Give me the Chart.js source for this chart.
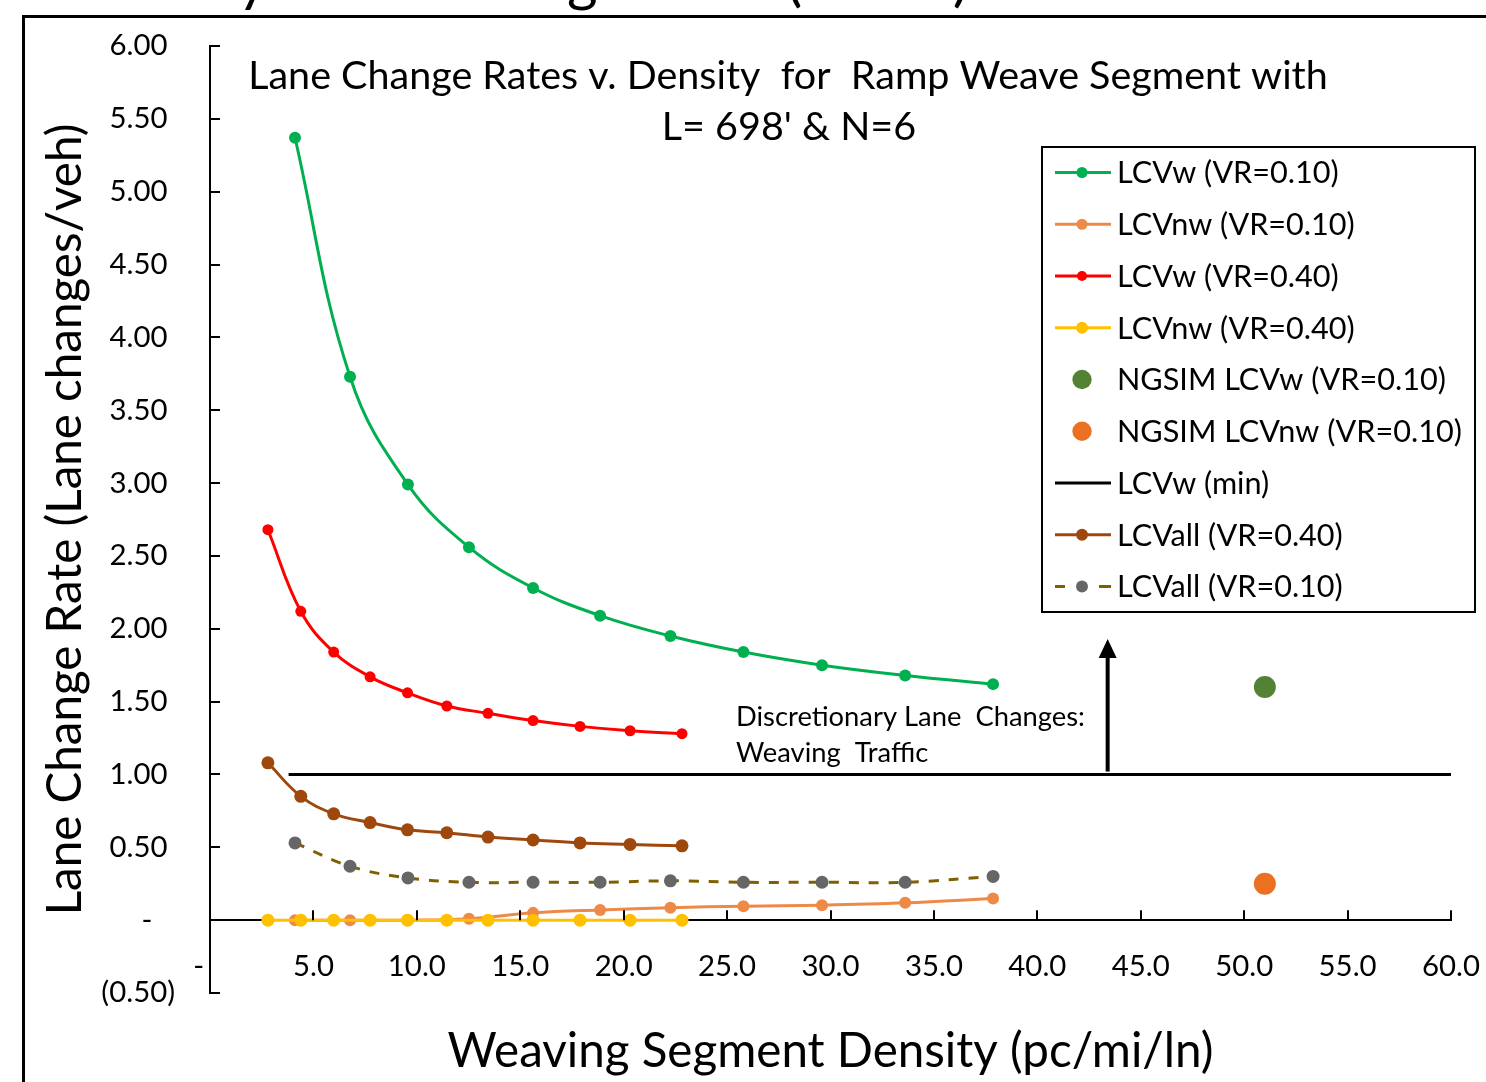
<!DOCTYPE html>
<html>
<head>
<meta charset="utf-8">
<script src="https://cdn.jsdelivr.net/npm/chart.js@4/dist/chart.umd.min.js"></script>
<style>
html, body { margin: 0; padding: 0; background: #fff; overflow: hidden; width: 1486px; height: 1082px; }
#cut { position: absolute; left: 5px; top: -40px; font-family: Lato, sans-serif; font-size: 46px; line-height: 46px; white-space: nowrap; color: #000; }
#bl { display: inline-block; width: 0; height: 0; }
#frame { position: absolute; left: 22px; top: 15px; width: 1520px; height: 1120px; border-left: 3px solid #000; border-top: 3px solid #000; }
#c { position: absolute; left: 0; top: 0; }
</style>
</head>
<body>
<div id="cut"><span id="bl"></span>data analysis with a higher VR (=0.40) is also shown.</div>
<div id="frame"></div>
<canvas id="c" width="1486" height="1082"></canvas>
<script>
// ---------------- data ----------------
const densityVR10 = [4.11, 6.77, 9.57, 12.52, 15.62, 18.86, 22.26, 25.79, 29.59, 33.61, 37.86];
const densityVR40 = [2.80, 4.39, 5.98, 7.74, 9.55, 11.45, 13.44, 15.62, 17.89, 20.31, 22.82];
const lcvwVR10   = [5.37, 3.73, 2.99, 2.56, 2.28, 2.09, 1.95, 1.84, 1.75, 1.68, 1.62];
const lcvnwVR10  = [0.00, 0.00, 0.00, 0.01, 0.05, 0.07, 0.085, 0.096, 0.103, 0.119, 0.149];
const lcvwVR40   = [2.68, 2.12, 1.84, 1.67, 1.56, 1.47, 1.42, 1.37, 1.33, 1.30, 1.28];
const lcvnwVR40  = [0.00, 0.00, 0.00, 0.00, 0.00, 0.00, 0.00, 0.00, 0.00, 0.00, 0.00];
const lcvallVR40 = [1.08, 0.85, 0.73, 0.67, 0.62, 0.60, 0.57, 0.55, 0.53, 0.52, 0.51];
const lcvallVR10 = [0.53, 0.37, 0.29, 0.26, 0.26, 0.26, 0.27, 0.26, 0.26, 0.26, 0.30];
const ngsimDensity = [51.0];
const ngsimLcvw    = [1.60];
const ngsimLcvnw   = [0.25];
const lcvwMinDensity = [3.8, 60];
const lcvwMinRate    = [1.0, 1.0];
const arrowDensity = [43.4, 43.4];
const arrowRate    = [1.02, 1.93];
const noteAnchor   = [25.43, 1.33, 1.085];   // x, baseline line 1, baseline line 2 (data units)

const seriesLabels = [
  'LCVw (VR=0.10)', 'LCVnw (VR=0.10)', 'LCVw (VR=0.40)', 'LCVnw (VR=0.40)',
  'NGSIM LCVw (VR=0.10)', 'NGSIM LCVnw (VR=0.10)', 'LCVw (min)',
  'LCVall (VR=0.40)', 'LCVall (VR=0.10)'
];
const yTickValues = [-0.5, 0, 0.5, 1, 1.5, 2, 2.5, 3, 3.5, 4, 4.5, 5, 5.5, 6];
const yTickLabels = ['(0.50)', '-   ', '0.50 ', '1.00 ', '1.50 ', '2.00 ', '2.50 ', '3.00 ', '3.50 ', '4.00 ', '4.50 ', '5.00 ', '5.50 ', '6.00 '];
const xTickValues = [0, 5, 10, 15, 20, 25, 30, 35, 40, 45, 50, 55, 60];
const xTickLabels = ['-   ', '5.0', '10.0', '15.0', '20.0', '25.0', '30.0', '35.0', '40.0', '45.0', '50.0', '55.0', '60.0'];
const titleLines = ['Lane Change Rates v. Density  for  Ramp Weave Segment with', "L= 698' & N=6"];
const xTitle = 'Weaving Segment Density (pc/mi/ln)';
const yTitle = 'Lane Change Rate (Lane changes/veh)';
const noteLines = ['Discretionary Lane  Changes:', 'Weaving  Traffic'];

// ---------------- clipped caption above the frame ----------------
(function () {
  const cut = document.getElementById('cut');
  const w = cut.getBoundingClientRect().width;
  cut.style.fontSize = (46 * 1335 / w) + 'px';
  cut.style.lineHeight = cut.style.fontSize;
  const base = document.getElementById('bl').getBoundingClientRect().bottom;
  cut.style.top = (-40 - 0.5 - base) + 'px';
})();

// ---------------- helpers ----------------
const FAMILY = 'Lato';
const mctx = document.createElement('canvas').getContext('2d');
function fitPx(text, width) {
  mctx.font = `100px ${FAMILY}`;
  return 100 * width / mctx.measureText(text).width;
}
const titlePx = fitPx(titleLines[0], 1080);
const axisTitlePx = fitPx(yTitle, 792);
const tickPx = fitPx('6.00', 58);
const legendPx = fitPx('NGSIM LCVnw (VR=0.10)', 345);
const notePx = fitPx(noteLines[0], 349);

const pts = (xs, ys) => xs.map((v, i) => ({ x: v, y: ys[i] }));
function series(i, xs, ys, color, extra) {
  return Object.assign({
    label: seriesLabels[i], data: pts(xs, ys),
    borderColor: color, backgroundColor: color,
    pointBackgroundColor: color, pointBorderColor: color, pointBorderWidth: 0,
    borderWidth: 3, pointRadius: 6, pointHoverRadius: 6,
    tension: 0.4, fill: false, order: -i, showLine: true
  }, extra || {});
}

const datasets = [
  series(0, densityVR10, lcvwVR10, '#00B050', { pointRadius: 6 }),
  series(1, densityVR10, lcvnwVR10, '#EE8A48', { pointRadius: 6 }),
  series(2, densityVR40, lcvwVR40, '#FF0000', { pointRadius: 5.5 }),
  series(3, densityVR40, lcvnwVR40, '#FFC000', { pointRadius: 6.5 }),
  series(4, ngsimDensity, ngsimLcvw, '#548235', { pointRadius: 11, showLine: false }),
  series(5, ngsimDensity, ngsimLcvnw, '#EB7021', { pointRadius: 11, showLine: false }),
  series(6, lcvwMinDensity, lcvwMinRate, '#000000', { pointRadius: 0, tension: 0, borderWidth: 3 }),
  series(7, densityVR40, lcvallVR40, '#9E480E', { pointRadius: 6.5 }),
  series(8, densityVR10, lcvallVR10, '#7F6000', { pointRadius: 6.5, borderWidth: 3, borderDash: [10, 10],
    pointBackgroundColor: '#666666', pointBorderColor: '#666666' })
];

function labelFor(values, labels, v) {
  const k = values.findIndex(t => Math.abs(t - v) < 1e-6);
  return k >= 0 ? labels[k] : '';
}

// ---------------- overlay plugin: inner ticks, arrow, note, title, legend ----------------
const overlay = {
  id: 'overlay',
  afterDatasetsDraw(chart) {
    const { ctx, chartArea: ca, scales: { x, y } } = chart;
    ctx.save();
    ctx.strokeStyle = '#000';
    ctx.fillStyle = '#000';
    ctx.lineWidth = 2;
    y.ticks.forEach(t => {
      const py = Math.round(y.getPixelForValue(t.value));
      ctx.beginPath(); ctx.moveTo(ca.left, py); ctx.lineTo(ca.left + 10, py); ctx.stroke();
    });
    const y0 = y.getPixelForValue(0);
    x.ticks.forEach(t => {
      if (t.value === 0) return;
      const px = Math.round(x.getPixelForValue(t.value));
      ctx.beginPath(); ctx.moveTo(px, y0); ctx.lineTo(px, y0 - 10); ctx.stroke();
    });
    // arrow
    const ax = x.getPixelForValue(arrowDensity[0]);
    const ayA = y.getPixelForValue(arrowRate[0]);
    const ayB = y.getPixelForValue(arrowRate[1]);
    ctx.lineWidth = 4;
    ctx.beginPath(); ctx.moveTo(ax, ayA); ctx.lineTo(ax, ayB + 14); ctx.stroke();
    ctx.beginPath(); ctx.moveTo(ax, ayB); ctx.lineTo(ax - 9, ayB + 19); ctx.lineTo(ax + 9, ayB + 19); ctx.closePath(); ctx.fill();
    // note text
    ctx.font = `${notePx}px ${FAMILY}`;
    ctx.textAlign = 'left'; ctx.textBaseline = 'alphabetic';
    const nx = x.getPixelForValue(noteAnchor[0]);
    ctx.fillText(noteLines[0], nx, y.getPixelForValue(noteAnchor[1]));
    ctx.fillText(noteLines[1], nx, y.getPixelForValue(noteAnchor[2]));
    ctx.restore();
  },
  afterDraw(chart) {
    const { ctx, chartArea: ca } = chart;
    const meta = chart.data.datasets;
    ctx.save();
    ctx.fillStyle = '#000';
    ctx.font = `${titlePx}px ${FAMILY}`;
    ctx.textAlign = 'center'; ctx.textBaseline = 'alphabetic';
    const tx = ca.left + 578;
    ctx.fillText(titleLines[0], tx, ca.top + 43);
    ctx.fillText(titleLines[1], tx + 1, ca.top + 94);
    // legend box
    const bx = ca.left + 832, by = ca.top + 101, bw = 433, bh = 465;
    ctx.fillStyle = '#fff';
    ctx.fillRect(bx, by, bw, bh);
    ctx.strokeStyle = '#000'; ctx.lineWidth = 2;
    ctx.strokeRect(bx, by, bw, bh);
    ctx.font = `${legendPx}px ${FAMILY}`;
    ctx.textAlign = 'left'; ctx.textBaseline = 'middle';
    meta.forEach((d, i) => {
      const cy = by + 25.5 + i * 51.75;
      const x0 = bx + 13, x1 = bx + 69, mx = bx + 40;
      if (d.showLine !== false) {
        ctx.strokeStyle = d.borderColor; ctx.lineWidth = d.borderWidth;
        if (d.borderDash) {
          ctx.beginPath(); ctx.moveTo(x0, cy); ctx.lineTo(x0 + 10, cy); ctx.moveTo(x1 - 12, cy); ctx.lineTo(x1, cy); ctx.stroke();
        } else {
          ctx.beginPath(); ctx.moveTo(x0, cy); ctx.lineTo(x1, cy); ctx.stroke();
        }
      }
      if (d.pointRadius > 0) {
        ctx.fillStyle = d.pointBackgroundColor;
        ctx.beginPath(); ctx.arc(mx, cy, Math.min(d.pointRadius, 10.5) * 0.92, 0, Math.PI * 2); ctx.fill();
      }
      ctx.fillStyle = '#000';
      ctx.fillText(d.label, bx + 75, cy + 1);
    });
    ctx.restore();
  }
};

// ---------------- chart ----------------
const tickLH = tickPx * 1.2;
const xTickPad = 46 - tickLH / 2;
const axTitleLH = axisTitlePx * 1.2;

new Chart(document.getElementById('c'), {
  type: 'line',
  data: { datasets },
  plugins: [overlay],
  options: {
    responsive: false, animation: false, devicePixelRatio: 1,
    layout: { padding: { left: 0, top: 46, right: 35, bottom: 89 } },
    plugins: { legend: { display: false }, title: { display: false }, tooltip: { enabled: false } },
    scales: {
      x: {
        type: 'linear', min: 0, max: 60, position: { y: 0 },
        grid: { display: false, drawTicks: false },
        border: { display: true, color: '#000', width: 2 },
        ticks: {
          stepSize: 5, autoSkip: false, maxRotation: 0, padding: xTickPad, color: '#000',
          font: { family: FAMILY, size: tickPx },
          callback: v => labelFor(xTickValues, xTickLabels, v)
        },
        title: {
          display: true, text: xTitle, color: '#000',
          font: { family: FAMILY, size: axisTitlePx },
          padding: { top: 40 - axTitleLH / 2, bottom: 0 }
        },
        afterFit: s => { s.paddingLeft = 0; s.paddingRight = 0; }
      },
      y: {
        type: 'linear', min: -0.5, max: 6, position: 'left',
        grid: { display: false, drawTicks: false },
        border: { display: true, color: '#000', width: 2 },
        ticks: {
          stepSize: 0.5, padding: 35, color: '#000',
          font: { family: FAMILY, size: tickPx },
          callback: v => labelFor(yTickValues, yTickLabels, v)
        },
        title: {
          display: true, text: yTitle, color: '#000',
          font: { family: FAMILY, size: axisTitlePx },
          padding: { top: 66 - axTitleLH / 2, bottom: 0 }
        },
        afterFit: s => { s.width = 210; s.paddingTop = 0; s.paddingBottom = 0; }
      }
    }
  }
});
</script>
</body>
</html>
